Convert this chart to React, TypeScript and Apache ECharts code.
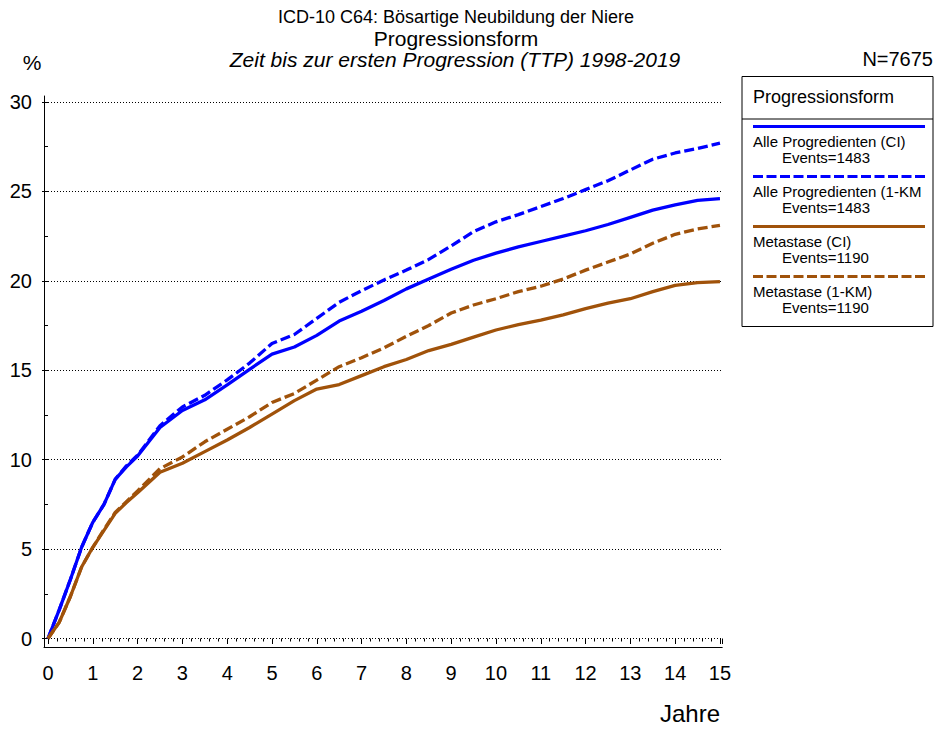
import React, { useEffect, useRef } from "react";
import * as echarts from "echarts";

const years = [0, 0.25, 0.5, 0.75, 1, 1.25, 1.5, 1.75, 2, 2.5, 3, 3.5, 4, 4.5, 5, 5.5, 6, 6.5, 7, 7.5, 8, 8.5, 9, 9.5, 10, 10.5, 11, 11.5, 12, 12.5, 13, 13.5, 14, 14.5, 15];
const alleCI = [0, 1.6, 3.3, 5.1, 6.5, 7.5, 8.9, 9.6, 10.2, 11.8, 12.75, 13.35, 14.18, 15.05, 15.9, 16.3, 16.95, 17.75, 18.3, 18.9, 19.55, 20.1, 20.65, 21.15, 21.55, 21.9, 22.2, 22.5, 22.8, 23.15, 23.55, 23.95, 24.25, 24.5, 24.6];
const alleKM = [0, 1.6, 3.3, 5.1, 6.5, 7.5, 8.9, 9.65, 10.25, 11.9, 12.95, 13.6, 14.46, 15.4, 16.5, 17.0, 17.9, 18.8, 19.45, 20.05, 20.6, 21.2, 21.95, 22.75, 23.3, 23.7, 24.15, 24.6, 25.1, 25.6, 26.2, 26.8, 27.15, 27.4, 27.7];
const metaCI = [0, 0.9, 2.35, 4.0, 5.1, 6.05, 7.0, 7.6, 8.15, 9.3, 9.8, 10.45, 11.1, 11.8, 12.55, 13.3, 13.95, 14.2, 14.7, 15.2, 15.6, 16.1, 16.45, 16.85, 17.25, 17.55, 17.8, 18.1, 18.45, 18.75, 19.0, 19.4, 19.75, 19.9, 19.96];
const metaKM = [0, 0.9, 2.35, 4.0, 5.1, 6.1, 7.05, 7.65, 8.25, 9.5, 10.15, 11.0, 11.7, 12.4, 13.2, 13.7, 14.45, 15.2, 15.7, 16.25, 16.9, 17.5, 18.2, 18.65, 19.0, 19.4, 19.7, 20.1, 20.6, 21.05, 21.5, 22.1, 22.6, 22.9, 23.1];

const seriesNames = ["Alle Progredienten (CI)", "Alle Progredienten (1-KM", "Metastase (CI)", "Metastase (1-KM)"];
const seriesEvents = [1483, 1483, 1190, 1190];
const titleLines = ["ICD-10 C64: Bösartige Neubildung der Niere", "Progressionsform", "Zeit bis zur ersten Progression (TTP) 1998-2019"];

const BLUE = "#0000ff";
const BROWN = "#a0520a";
const FONT = "'Liberation Sans', Arial, sans-serif";

export default function App() {
  const ref = useRef<HTMLDivElement>(null);
  useEffect(() => {
    document.body.style.margin = "0";
    const chart = echarts.init(ref.current!, null, { renderer: "svg" });
    const valuesList = [alleCI, alleKM, metaCI, metaKM];
    const colors = [BLUE, BLUE, BROWN, BROWN];
    const dashed = [false, true, false, true];

    const series = valuesList.map((vals, i) => ({
      type: "line",
      name: seriesNames[i],
      data: years.map((t, j) => [t, vals[j]]),
      showSymbol: false,
      symbol: "none",
      xAxisIndex: 0,
      yAxisIndex: 0,
      lineStyle: { color: colors[i], width: 3.3, type: dashed[i] ? [10, 4] : "solid" },
      z: 3 + i,
    }));

    const legendGraphics: any[] = [
      { type: "rect", shape: { x: 742, y: 76.5, width: 191, height: 250 }, style: { fill: "#fff", stroke: "#000", lineWidth: 1 } },
      { type: "line", shape: { x1: 742, y1: 119, x2: 933, y2: 119 }, style: { stroke: "#000", lineWidth: 1 } },
      { type: "text", x: 753, y: 97, style: { text: "Progressionsform", fontSize: 18, fontFamily: FONT, fill: "#000", textVerticalAlign: "middle" } },
    ];
    seriesNames.forEach((n, i) => {
      const y0 = 126.5 + i * 50;
      legendGraphics.push({
        type: "line",
        shape: { x1: 753, y1: y0, x2: 925, y2: y0 },
        style: { stroke: colors[i], lineWidth: 3, lineDash: dashed[i] ? [10, 3.5] : null },
      });
      legendGraphics.push({ type: "text", x: 753, y: y0 + 15.3, style: { text: n, fontSize: 15, lineHeight: 15, fontFamily: FONT, fill: "#000", textVerticalAlign: "middle" } });
      legendGraphics.push({ type: "text", x: 782, y: y0 + 30.6, style: { text: "Events=" + seriesEvents[i], fontSize: 15, lineHeight: 15, fontFamily: FONT, fill: "#000", textVerticalAlign: "middle" } });
    });

    const option: any = {
      animation: false,
      backgroundColor: "#fff",
      textStyle: { fontFamily: FONT },
      grid: [
        { left: 48, right: 935 - 722.2, top: 102, bottom: 729 - 638.5, containLabel: false },
        { left: 44, right: 935 - 722.2, top: 96, bottom: 729 - 647, containLabel: false },
      ],
      xAxis: [
        {
          type: "value", gridIndex: 0, min: 0, max: 15.05, interval: 1, offset: 8.5,
          axisLine: { show: false },
          axisTick: { show: true, length: 5.5, lineStyle: { color: "#000", width: 1 } },
          minorTick: { show: true, splitNumber: 5, length: 3, lineStyle: { color: "#000", width: 1 } },
          axisLabel: { fontSize: 20, color: "#000", margin: 16, fontFamily: FONT, formatter: (v: number) => (v <= 15 ? String(v) : "") },
          splitLine: { show: false },
        },
        {
          type: "value", gridIndex: 1, min: 0, max: 1,
          axisLine: { show: true, lineStyle: { color: "#000", width: 1 } },
          axisTick: { show: false }, axisLabel: { show: false }, splitLine: { show: false },
        },
      ],
      yAxis: [
        {
          type: "value", gridIndex: 0, min: 0, max: 30, interval: 5, offset: 4,
          axisLine: { show: false },
          axisTick: { show: true, length: 6, lineStyle: { color: "#000", width: 1 } },
          minorTick: { show: true, splitNumber: 2, length: 3, lineStyle: { color: "#000", width: 1 } },
          axisLabel: { fontSize: 20, color: "#000", margin: 12, fontFamily: FONT },
          splitLine: { show: true, lineStyle: { color: "#000", width: 1, type: [1, 2] } },
        },
        {
          type: "value", gridIndex: 1, min: 0, max: 1,
          axisLine: { show: true, lineStyle: { color: "#000", width: 1 } },
          axisTick: { show: false }, axisLabel: { show: false }, splitLine: { show: false },
        },
      ],
      series,
      graphic: [
        { type: "text", x: 456, y: 17, style: { text: titleLines[0], fontSize: 18, fontFamily: FONT, fill: "#000", textAlign: "center", textVerticalAlign: "middle" } },
        { type: "text", x: 456, y: 38, style: { text: titleLines[1], fontSize: 21, fontFamily: FONT, fill: "#000", textAlign: "center", textVerticalAlign: "middle" } },
        { type: "text", x: 455, y: 59, style: { text: titleLines[2], fontSize: 21, fontStyle: "italic", fontFamily: FONT, fill: "#000", textAlign: "center", textVerticalAlign: "middle" } },
        { type: "text", x: 32, y: 62, style: { text: "%", fontSize: 21, fontFamily: FONT, fill: "#000", textAlign: "center", textVerticalAlign: "middle" } },
        { type: "text", x: 933, y: 59, style: { text: "N=7675", fontSize: 20, fontFamily: FONT, fill: "#000", textAlign: "right", textVerticalAlign: "middle" } },
        { type: "text", x: 720, y: 713, style: { text: "Jahre", fontSize: 24, fontFamily: FONT, fill: "#000", textAlign: "right", textVerticalAlign: "middle" } },
        ...legendGraphics,
      ],
    };
    chart.setOption(option);
    return () => chart.dispose();
  }, []);
  return <div ref={ref} style={{ width: 935, height: 729 }} />;
}
